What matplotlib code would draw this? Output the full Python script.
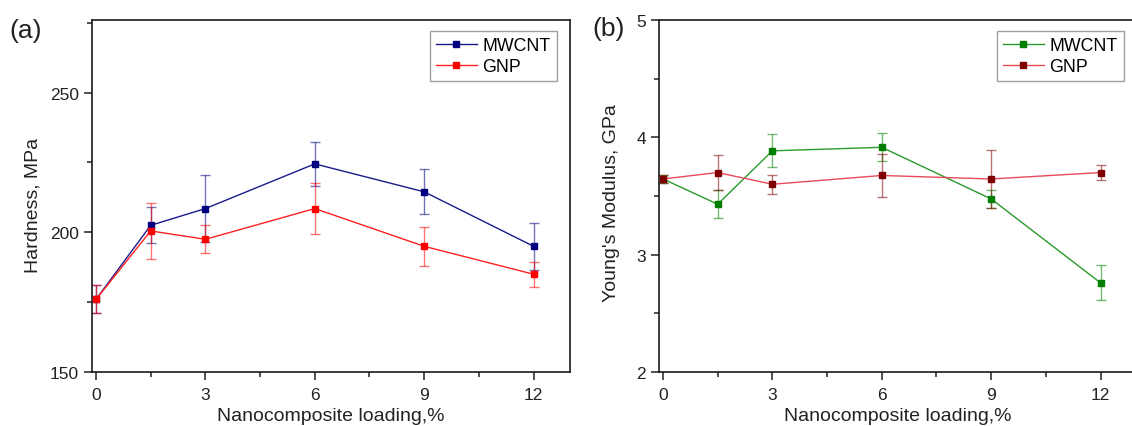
import numpy as np
import matplotlib
matplotlib.use('Agg')
from matplotlib import pyplot as plt
from matplotlib.ticker import MultipleLocator

### DATA
loading = [0, 1.5, 3, 6, 9, 12]

hard_mwcnt = [176, 202.5, 208.5, 224.5, 214.5, 195]
hard_mwcnt_err = [5, 6.5, 12, 8, 8, 8.5]
hard_gnp = [176, 200.5, 197.5, 208.5, 195, 185]
hard_gnp_err = [5, 10, 5, 9, 7, 4.5]

mod_mwcnt = [3.645, 3.43, 3.885, 3.915, 3.475, 2.76]
mod_mwcnt_err = [0.03, 0.12, 0.14, 0.12, 0.08, 0.15]
mod_gnp = [3.645, 3.70, 3.60, 3.675, 3.645, 3.70]
mod_gnp_err = [0.03, 0.15, 0.08, 0.18, 0.25, 0.065]

### STYLE
plt.rcParams['font.family'] = ['Liberation Sans', 'DejaVu Sans']
plt.rcParams['axes.linewidth'] = 1.2
plt.rcParams['axes.edgecolor'] = '#1a1a1a'

W, H = 1132, 427
fig = plt.figure(figsize=(W / 100, H / 100), dpi=100)

def px_axes(left, right, top, bottom):
    return fig.add_axes([left / W, 1 - bottom / H, (right - left) / W, (bottom - top) / H])

ax_a = px_axes(92, 570, 21, 373)
ax_b = px_axes(659, 1137, 21, 373)

def draw_series(ax, y, err, line_color, marker_color, label):
    ax.errorbar(loading, y, yerr=err, fmt='none', ecolor=marker_color, alpha=0.55,
                elinewidth=1.0, capsize=3.5, capthick=1.0, zorder=2)
    ax.plot(loading, y, '-', color=line_color, lw=1.0, marker='s', ms=5,
            mfc=marker_color, mec=marker_color, label=label, zorder=3)

draw_series(ax_a, hard_mwcnt, hard_mwcnt_err, '#1a1a8a', '#00007f', 'MWCNT')
draw_series(ax_a, hard_gnp, hard_gnp_err, '#ff2020', '#ff0000', 'GNP')
draw_series(ax_b, mod_mwcnt, mod_mwcnt_err, '#2a9a2a', '#007f00', 'MWCNT')
draw_series(ax_b, mod_gnp, mod_gnp_err, '#e84a5a', '#7f0000', 'GNP')

for ax in (ax_a, ax_b):
    ax.set_xlim(-0.11, 13.0)
    ax.xaxis.set_major_locator(MultipleLocator(3))
    ax.xaxis.set_minor_locator(MultipleLocator(1.5))
    ax.tick_params(which='both', direction='out', top=False, right=False,
                   labelsize=12.5, colors='#222222')
    ax.tick_params(which='major', length=6, width=1.1)
    ax.tick_params(which='minor', length=3.5, width=1.1)
    ax.tick_params(axis='x', pad=5)
    ax.set_xlabel('Nanocomposite loading,%', fontsize=14, color='#222222')
    ax.xaxis.set_label_coords(0.5, -0.1)
    leg = ax.legend(loc='upper right', bbox_to_anchor=(0.972, 0.969), borderaxespad=0,
                    fontsize=12.8, frameon=True, fancybox=False, edgecolor='#888888',
                    handlelength=2.3, handletextpad=0.3, labelspacing=0.22,
                    borderpad=0.35)
    leg.get_frame().set_linewidth(1.0)

ax_a.set_ylim(150, 276)
ax_a.yaxis.set_major_locator(MultipleLocator(50))
ax_a.yaxis.set_minor_locator(MultipleLocator(25))
ax_a.set_ylabel('Hardness, MPa', fontsize=14, color='#222222')
ax_a.yaxis.set_label_coords(-0.105, 0.477)

ax_b.set_ylim(2, 5)
ax_b.yaxis.set_major_locator(MultipleLocator(1))
ax_b.yaxis.set_minor_locator(MultipleLocator(0.5))
ax_b.set_ylabel("Young's Modulus, GPa", fontsize=14, color='#222222')
ax_b.yaxis.set_label_coords(-0.082, 0.483)

fig.text(9 / W, 1 - 31 / H, '(a)', fontsize=19, va='center', ha='left', color='#222222')
fig.text(592 / W, 1 - 29 / H, '(b)', fontsize=19, va='center', ha='left', color='#222222')

fig.savefig('out.png', dpi=100)
